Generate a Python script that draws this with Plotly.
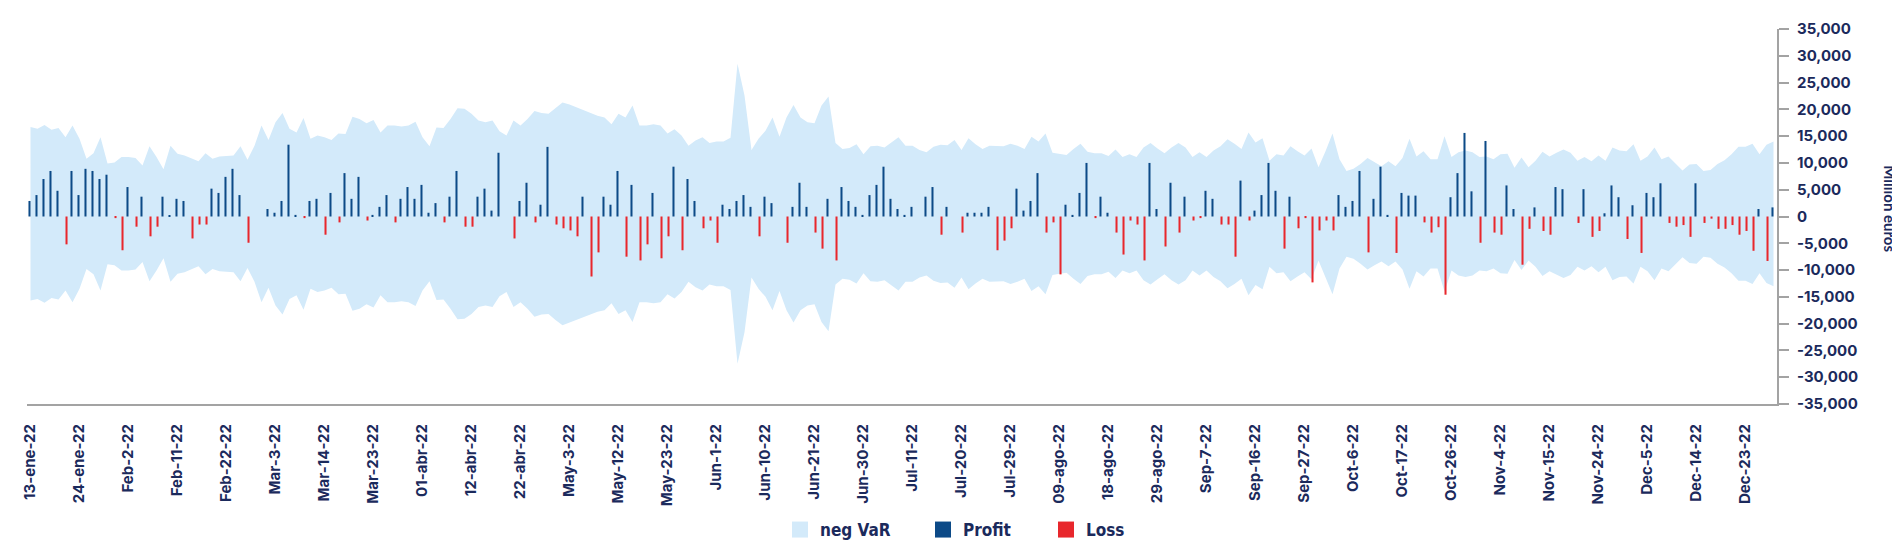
import plotly.graph_objects as go

# ---------------- data ----------------
tick_labels = ['13-ene-22', '24-ene-22', 'Feb-2-22', 'Feb-11-22', 'Feb-22-22', 'Mar-3-22',
               'Mar-14-22', 'Mar-23-22', '01-abr-22', '12-abr-22', '22-abr-22', 'May-3-22',
               'May-12-22', 'May-23-22', 'Jun-1-22', 'Jun-10-22', 'Jun-21-22', 'Jun-30-22',
               'Jul-11-22', 'Jul-20-22', 'Jul-29-22', '09-ago-22', '18-ago-22', '29-ago-22',
               'Sep-7-22', 'Sep-16-22', 'Sep-27-22', 'Oct-6-22', 'Oct-17-22', 'Oct-26-22',
               'Nov-4-22', 'Nov-15-22', 'Nov-24-22', 'Dec-5-22', 'Dec-14-22', 'Dec-23-22']
tick_every = 7  # one label every 7 trading days

y_tick_values = [35000, 30000, 25000, 20000, 15000, 10000, 5000, 0,
                 -5000, -10000, -15000, -20000, -25000, -30000, -35000]
y_tick_text = ['35,000', '30,000', '25,000', '20,000', '15,000', '10,000', '5,000', '0',
               '-5,000', '-10,000', '-15,000', '-20,000', '-25,000', '-30,000', '-35,000']

# daily profit / loss (million euros)
pnl = [
    2900, 4000, 7000, 8500, 4800, -5200, 8500, 4000, 8900, 8500,
    7000, 7800, -300, -6300, 5500, -1900, 3700, -3700, -1900, 3700,
    250, 3300, 2900, -4100, -1500, -1500, 5200, 4400, 7400, 8900,
    4000, -4900, 0, 0, 1400, 700, 2900, 13400, 300, -300,
    2900, 3300, -3400, 4400, -1100, 8100, 3300, 7400, -750, 300,
    1800, 4000, -1100, 3300, 5500, 3300, 5900, 700, 2500, -1100,
    3700, 8500, -1900, -1900, 3700, 5200, 1100, 11900, 0, -4100,
    2900, 6300, -1100, 2200, 13000, -1500, -2200, -2600, -3700, 3700,
    -11200, -6700, 3700, 2200, 8500, -7500, 5900, -8200, -5200, 4400,
    -7800, -3700, 9300, -6300, 7000, 2900, -2200, -750, -4900, 2200,
    1400, 2900, 4000, 1800, -3700, 3700, 2500, 0, -4900, 1800,
    6300, 1800, -3000, -6000, 3300, -8200, 5500, 2900, 1800, 300,
    4000, 5900, 9300, 3300, 1400, 300, 1800, 0, 3700, 5500,
    -3400, 1800, 0, -3000, 700, 700, 700, 1800, -6300, -4500,
    -2200, 5200, 1100, 2900, 8100, -3000, -1100, -10800, 2200, 300,
    4400, 10000, -300, 3700, 700, -3000, -7100, -750, -1500, -8200,
    10000, 1400, -5600, 6300, -3000, 3700, -750, -300, 4800, 3300,
    -1500, -1500, -7500, 6700, -750, 1100, 4000, 10000, 4800, -6000,
    3700, -2200, -300, -12300, -2600, -750, -2600, 4000, 1800, 2900,
    8500, -6700, 3300, 9300, 300, -6800, 4400, 3900, 3900, -1100,
    -3000, -2000, -14600, 3600, 8100, 15600, 4700, -4900, 14100, -3000,
    -3400, 5800, 1400, -9000, -2300, 1700, -2700, -3400, 5500, 5100,
    0, -1200, 5100, -3800, -2700, 600, 5800, 3600, -4200, 2100,
    -6800, 4400, 3600, 6200, -1200, -1900, -1600, -3800, 6200, -1200,
    -400, -2300, -2300, -1600, -3400, -2700, -6400, 1400, -8300, 1700,
]

# VaR band, upper edge
var_upper = [
    16700, 16400, 17100, 16200, 16500, 14800, 17000, 14500, 10800, 11800,
    14800, 9900, 10100, 11100, 11100, 10900, 9500, 13100, 11100, 8800,
    13200, 11700, 11400, 10900, 10300, 11800, 10800, 11200, 11300, 11400,
    13100, 10600, 13200, 17000, 14300, 17600, 19300, 16400, 15700, 18400,
    14500, 15100, 14800, 14300, 15500, 15400, 18600, 18200, 17400, 18000,
    15700, 17000, 17000, 16800, 17000, 17700, 14800, 13100, 16600, 16500,
    18200, 20200, 20100, 19200, 17900, 17600, 17900, 15900, 15100, 17900,
    17000, 18200, 19700, 19300, 19200, 20300, 21300, 20900, 20400, 19900,
    19300, 18800, 18500, 17200, 19200, 18500, 20700, 17000, 17000, 17200,
    17000, 15500, 16300, 15100, 13200, 14200, 14800, 13700, 14000, 14000,
    14700, 28500, 22600, 12400, 14500, 16000, 18500, 14900, 18500, 20800,
    18500, 17600, 17400, 20700, 22400, 13700, 12600, 12800, 13500, 11600,
    13100, 13200, 12900, 13800, 14800, 13200, 13200, 12400, 12000, 13000,
    13400, 13300, 14300, 12400, 14600, 13500, 12600, 13200, 13200, 13100,
    13600, 13200, 12600, 14900, 14000, 15500, 11900, 11700, 11500, 12600,
    13600, 12100, 11800, 11800, 11300, 12500, 11100, 11600, 11100, 12900,
    13700, 12700, 11800, 12900, 13700, 12900, 11100, 12000, 11100, 12300,
    13100, 14400, 13600, 12600, 15700, 13800, 14600, 10400, 11600, 11400,
    13100, 12200, 11400, 12700, 9200, 12200, 15500, 10700, 8500, 8900,
    9800, 10900, 10100, 9400, 10300, 9400, 10900, 14500, 11200, 12200,
    10700, 10700, 15000, 11100, 12000, 12300, 12000, 11100, 11200, 10700,
    11600, 11700, 9100, 11000, 9200, 10400, 12100, 11200, 11900, 12500,
    11900, 10400, 11100, 10300, 11400, 10400, 12900, 12300, 12200, 13500,
    10400, 11200, 12900, 10700, 11200, 9900, 8600, 9700, 9800, 8500,
    8700, 9800, 10500, 11600, 13000, 13000, 13600, 11600, 13400, 14000,
]

# VaR band, lower edge
var_lower = [
    -15700, -15400, -16100, -15200, -15500, -13800, -16000, -13500, -9800, -10800,
    -13800, -8900, -9100, -10100, -10100, -9900, -8500, -12100, -10100, -7800,
    -12200, -10700, -10400, -9900, -9300, -10800, -9800, -10200, -10300, -10400,
    -12100, -9600, -12200, -16000, -13300, -16600, -18300, -15400, -14700, -17400,
    -13500, -14100, -13800, -13300, -14500, -14400, -17600, -17200, -16400, -17000,
    -14700, -16000, -16000, -15800, -16000, -16700, -13800, -12100, -15600, -15500,
    -17200, -19200, -19100, -18200, -16900, -16600, -16900, -14900, -14100, -16900,
    -16000, -17200, -18700, -18300, -18200, -19300, -20300, -19900, -19400, -18900,
    -18300, -17800, -17500, -16200, -18200, -17500, -19700, -16000, -16000, -16200,
    -16000, -14500, -15300, -14100, -12200, -13200, -13800, -12700, -13000, -13000,
    -13700, -27500, -21600, -11400, -13500, -15000, -17500, -13900, -17500, -19800,
    -17500, -16600, -16400, -19700, -21400, -12700, -11600, -11800, -12500, -10600,
    -12100, -12200, -11900, -12800, -13800, -12200, -12200, -11400, -11000, -12000,
    -12400, -12300, -13300, -11400, -13600, -12500, -11600, -12200, -12200, -12100,
    -12600, -12200, -11600, -13900, -13000, -14500, -10900, -10700, -10500, -11600,
    -12600, -11100, -10800, -10800, -10300, -11500, -10100, -10600, -10100, -11900,
    -12700, -11700, -10800, -11900, -12700, -11900, -10100, -11000, -10100, -11300,
    -12100, -13400, -12600, -11600, -14700, -12800, -13600, -9400, -10600, -10400,
    -12100, -11200, -10400, -11700, -8200, -11200, -14500, -9700, -7500, -7900,
    -8800, -9900, -9100, -8400, -9300, -8400, -9900, -13500, -10200, -11200,
    -9700, -9700, -14000, -10100, -11000, -11300, -11000, -10100, -10200, -9700,
    -10600, -10700, -8100, -10000, -8200, -9400, -11100, -10200, -10900, -11500,
    -10900, -9400, -10100, -9300, -10400, -9400, -11900, -11300, -11200, -12500,
    -9400, -10200, -11900, -9700, -10200, -8900, -7600, -8700, -8800, -7500,
    -7700, -8800, -9500, -10600, -12000, -12000, -12600, -10600, -12400, -13000,
]

# ---------------- styling ----------------
NAVY_TXT = '#1b2a5c'
PROFIT_C = '#0c4a87'
LOSS_C = '#e8272c'
VAR_C = '#d3eafa'
AXIS_C = '#a3a3a3'
FONT = 'Inter, Lato, sans-serif'
LEG_FONT = 'Liberation Sans Narrow, DejaVu Sans Condensed, sans-serif'

n = len(pnl)
idx = list(range(n))
profit = [v if v > 0 else None for v in pnl]
loss = [v if v < 0 else None for v in pnl]
tickvals = [i * tick_every for i in range(len(tick_labels))]

fig = go.Figure()

# VaR band (drawn on base axes, behind the bars)
fig.add_trace(go.Scatter(
    x=idx + idx[::-1], y=var_upper + var_lower[::-1],
    fill='toself', fillcolor=VAR_C, mode='lines', line=dict(width=0, color=VAR_C),
    name='neg VaR', showlegend=False, hoverinfo='skip'))

# bars on an overlaid axis so they sit on top of the band
fig.add_trace(go.Bar(x=idx, y=profit, name='Profit', marker=dict(color=PROFIT_C, line=dict(width=0)),
                     yaxis='y2', showlegend=False))
fig.add_trace(go.Bar(x=idx, y=loss, name='Loss', marker=dict(color=LOSS_C, line=dict(width=0)),
                     yaxis='y2', showlegend=False))

# legend entries (square swatches), one legend box each
leg_items = [('neg VaR', VAR_C, 'legend', 772), ('Profit', PROFIT_C, 'legend2', 915),
             ('Loss', LOSS_C, 'legend3', 1038)]
for nm, col, lg, _ in leg_items:
    fig.add_trace(go.Scatter(x=[None], y=[None], mode='markers', name=nm, legend=lg,
                             marker=dict(symbol='square', size=16, color=col)))

legend_style = dict(orientation='h', xref='container', yref='container', xanchor='left',
                    y=18 / 540, yanchor='middle', bgcolor='rgba(0,0,0,0)', borderwidth=0,
                    font=dict(family=LEG_FONT, size=17, color=NAVY_TXT, weight='bold'))
legends = {}
for nm, col, lg, px in leg_items:
    legends[lg] = dict(legend_style, x=px / 1900)

fig.update_layout(
    width=1900, height=540,
    margin=dict(l=19, r=131, t=21, b=144, autoexpand=False),
    paper_bgcolor='white', plot_bgcolor='white',
    barmode='group', bargap=0.42, bargroupgap=0,
    showlegend=True,
    xaxis=dict(range=[-0.5, n - 0.5], tickmode='array', tickvals=tickvals, ticktext=tick_labels,
               tickangle=-90, showline=True, linecolor=AXIS_C, linewidth=2, ticks='',
               showgrid=False, zeroline=False, ticklabelstandoff=12, automargin=False,
               tickfont=dict(family=FONT, size=15, color=NAVY_TXT, weight='bold')),
    yaxis=dict(range=[-35000, 35000], side='right', tickmode='array',
               tickvals=y_tick_values, ticktext=y_tick_text,
               showline=True, linecolor=AXIS_C, linewidth=2,
               ticks='outside', ticklen=10, tickwidth=2, tickcolor=AXIS_C,
               showgrid=False, zeroline=False, ticklabelstandoff=5, automargin=False,
               tickfont=dict(family=FONT, size=15, color=NAVY_TXT, weight='bold')),
    yaxis2=dict(range=[-35000, 35000], overlaying='y', visible=False),
    annotations=[dict(text='<b>Million euros</b>', xref='paper', yref='paper', x=1.0645, y=0.52,
                      textangle=90, showarrow=False, xanchor='center', yanchor='middle',
                      font=dict(family='Lato, Inter, sans-serif', size=15, color=NAVY_TXT))],
    **legends,
)

fig.write_html('out.html')
